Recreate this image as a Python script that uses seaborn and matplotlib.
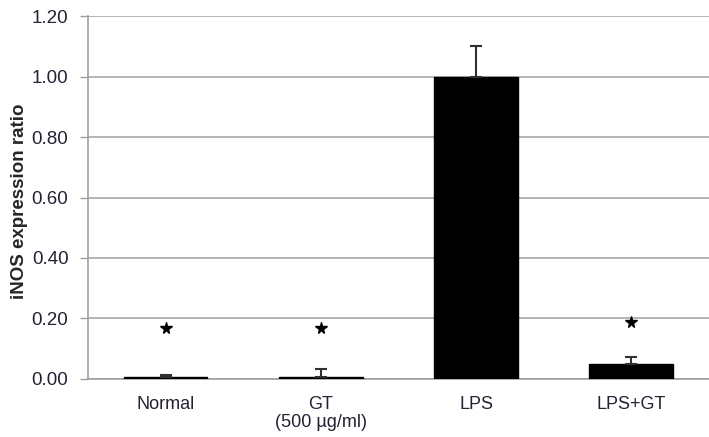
import matplotlib
matplotlib.use("Agg")
import matplotlib.pyplot as plt
import seaborn as sns
import pandas as pd
import numpy as np

categories = ["Normal", "GT\n(500 µg/ml)", "LPS", "LPS+GT"]
values = [0.005, 0.005, 1.00, 0.048]
errors = [0.008, 0.027, 0.10, 0.025]
star_y = [0.169, 0.169, None, 0.188]
yticks = [0.0, 0.2, 0.4, 0.6, 0.8, 1.0, 1.2]

sns.set_theme(style="white")
plt.rcParams["font.family"] = ["Liberation Sans", "DejaVu Sans"]

df = pd.DataFrame({"group": categories, "ratio": values})

fig = plt.figure(figsize=(7.09, 4.37), dpi=100)
ax = fig.add_axes([0.124, 0.133, 0.876, 0.830])

sns.barplot(data=df, x="group", y="ratio", order=categories, color="black",
            edgecolor="black", width=0.54, errorbar=None, ax=ax, zorder=3)

xs = np.arange(len(categories))
ax.errorbar(xs, values, yerr=[np.zeros(len(errors)), errors], fmt="none",
            ecolor="#303030", elinewidth=1.5, capsize=4, capthick=1.5, zorder=4)

for x, s in zip(xs, star_y):
    if s is not None:
        ax.plot(x, s, marker="*", markersize=8.5, color="black",
                linestyle="none", zorder=5)

ax.set_ylim(0, 1.2)
ax.set_xlim(-0.5, len(categories) - 0.5)
ax.set_yticks(yticks)
ax.set_yticklabels([f"{v:.2f}" for v in yticks], fontsize=13.5, color="#222233")
ax.set_xticks(xs)
ax.set_xticklabels(categories, fontsize=13, color="#222233", linespacing=1.1)
ax.set_xticks(np.arange(-0.5, len(categories)), minor=True)
ax.tick_params(axis="x", which="major", length=0, pad=12)
ax.tick_params(axis="x", which="minor", length=6, width=1, color="#a0a0a0", direction="out")
ax.tick_params(axis="y", length=6, width=1, color="#a0a0a0", direction="out", left=True, pad=8)

ax.yaxis.grid(True, color="#a8a8a8", linewidth=1.2, zorder=0)
ax.set_axisbelow(True)
for side in ["top", "right"]:
    ax.spines[side].set_visible(False)
for side in ["left", "bottom"]:
    ax.spines[side].set_color("#a0a0a0")
    ax.spines[side].set_linewidth(1.2)

ax.set_xlabel("")
ax.set_ylabel("iNOS expression ratio", fontsize=13.5, fontweight="bold")
ax.yaxis.set_label_coords(-0.096, 0.489)

fig.savefig("out.png", dpi=100)
